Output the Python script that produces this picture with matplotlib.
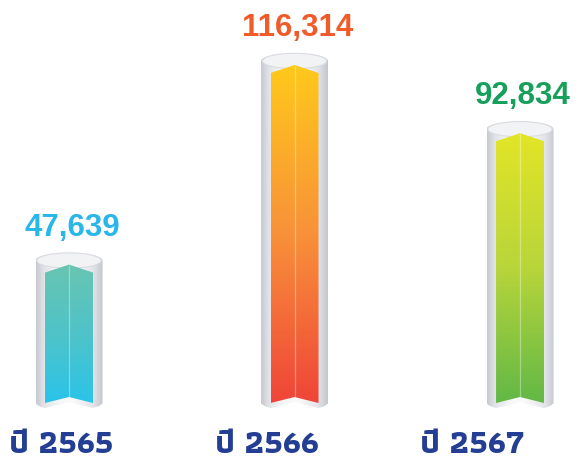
import numpy as np
import matplotlib
matplotlib.use('Agg')
import matplotlib.pyplot as plt
from matplotlib.patches import Polygon, Ellipse
from matplotlib import font_manager
from matplotlib.ft2font import FT2Font
from matplotlib.colors import LinearSegmentedColormap

# ---- data ----
categories = ['ปี 2565', 'ปี 2566', 'ปี 2567']
values = [47639, 116314, 92834]
value_labels = ['47,639', '116,314', '92,834']

# ---- style ----
bar_top_colors = ['#68C5B1', '#FFC91B', '#E3E526']
bar_mid_colors = ['#4FC3C8', '#F8913A', '#B8D53A']
bar_bottom_colors = ['#2BC4EA', '#EF4538', '#62B847']
text_colors = ['#29B6E9', '#F15A29', '#17A05B']
label_color = '#233E93'


def find_font(ch):
    cands = []
    for f in font_manager.fontManager.ttflist:
        try:
            cmap = FT2Font(f.fname).get_charmap()
        except Exception:
            continue
        if ord(ch) in cmap:
            w = f.weight
            if isinstance(w, str):
                w = 700 if 'bold' in w.lower() else 400
            cands.append((-(w >= 600), f.name))
    if not cands:
        return None
    cands.sort()
    return cands[0][1]


thai_font = find_font('ป')
label_family = ([thai_font] if thai_font else []) + ['Liberation Sans', 'DejaVu Sans']

W, H = 578, 461
fig = plt.figure(figsize=(W / 100, H / 100), dpi=100)
ax = fig.add_axes([0, 0, 1, 1])
ax.axis('off')

xs = np.arange(len(values))
XLIM = (-0.306, 2.257)
PX_X = (XLIM[1] - XLIM[0]) / W
PX_Y = max(values) / 338.0
YLIM = (-(H - 403) * PX_Y, 403 * PX_Y)

hw = 33.5 * PX_X      # tube half width
bw = 24 * PX_X        # bar half width
ry = 8 * PX_Y         # ellipse half height

tube_cmap = LinearSegmentedColormap.from_list(
    'tube', [(0, '#C6C9D0'), (0.12, '#E2E4E8'), (0.35, '#F6F7F8'),
             (0.55, '#FAFAFB'), (0.85, '#E4E5E9'), (1, '#C3C6CD')])

for i, (c, v) in enumerate(zip(xs, values)):
    top = v + 12 * PX_Y
    ecy = top - ry
    # tube body
    t = np.linspace(np.pi, 0, 40)
    arc = np.column_stack([c + hw * np.cos(t), ecy + ry * np.sin(t)])
    bottom = np.array([
        [c + hw, -0.5 * PX_Y],
        [c + hw * 0.9, -3 * PX_Y],
        [c + bw, -5 * PX_Y],
        [c, 1 * PX_Y],
        [c - bw, -5 * PX_Y],
        [c - hw * 0.9, -3 * PX_Y],
        [c - hw, -0.5 * PX_Y],
    ])
    pts = np.vstack([arc, bottom])
    tube = Polygon(pts, closed=True, facecolor='none', edgecolor='none')
    ax.add_patch(tube)
    grad = np.linspace(0, 1, 256).reshape(1, -1)
    im = ax.imshow(grad, cmap=tube_cmap, aspect='auto',
                   extent=(c - hw, c + hw, -6 * PX_Y, top), zorder=1,
                   interpolation='bicubic')
    im.set_clip_path(tube)
    # tube top ellipse
    ax.add_patch(Ellipse((c, ecy), 2 * hw * 0.96, 2 * ry * 0.96,
                         facecolor='#F2F3F5', edgecolor='#DADCE1',
                         lw=0.8, zorder=2))
    # inner chevron bar
    bar_pts = np.array([
        [c - bw, 0],
        [c - bw, v - 8 * PX_Y],
        [c, v],
        [c + bw, v - 8 * PX_Y],
        [c + bw, 0],
        [c, 6 * PX_Y],
    ])
    bar = Polygon(bar_pts, closed=True, facecolor='none', edgecolor='none')
    ax.add_patch(bar)
    bcmap = LinearSegmentedColormap.from_list(
        f'bar{i}', [bar_bottom_colors[i], bar_mid_colors[i], bar_top_colors[i]])
    vg = np.linspace(0, 1, 256).reshape(-1, 1)
    bim = ax.imshow(vg, cmap=bcmap, aspect='auto', origin='lower',
                    extent=(c - bw, c + bw, 0, v), zorder=3,
                    interpolation='bicubic')
    bim.set_clip_path(bar)
    ax.plot([c, c], [6 * PX_Y, v], color='white', alpha=0.35, lw=0.9,
            zorder=4, solid_capstyle='butt')
    # value label
    ax.text(c + 3 * PX_X, v + 29 * PX_Y, value_labels[i], ha='center',
            va='baseline', fontsize=22.5, fontweight='bold',
            family=['Liberation Sans', 'DejaVu Sans'], color=text_colors[i],
            zorder=5)

for i, lab in enumerate(categories):
    fig.text((61 + i * 205.5) / W, 1 - 445 / H, lab, ha='center',
             va='center', fontsize=23.5, fontweight='bold',
             family=label_family, color=label_color)

ax.set_xlim(*XLIM)
ax.set_ylim(*YLIM)
fig.savefig('out.png', dpi=100)
